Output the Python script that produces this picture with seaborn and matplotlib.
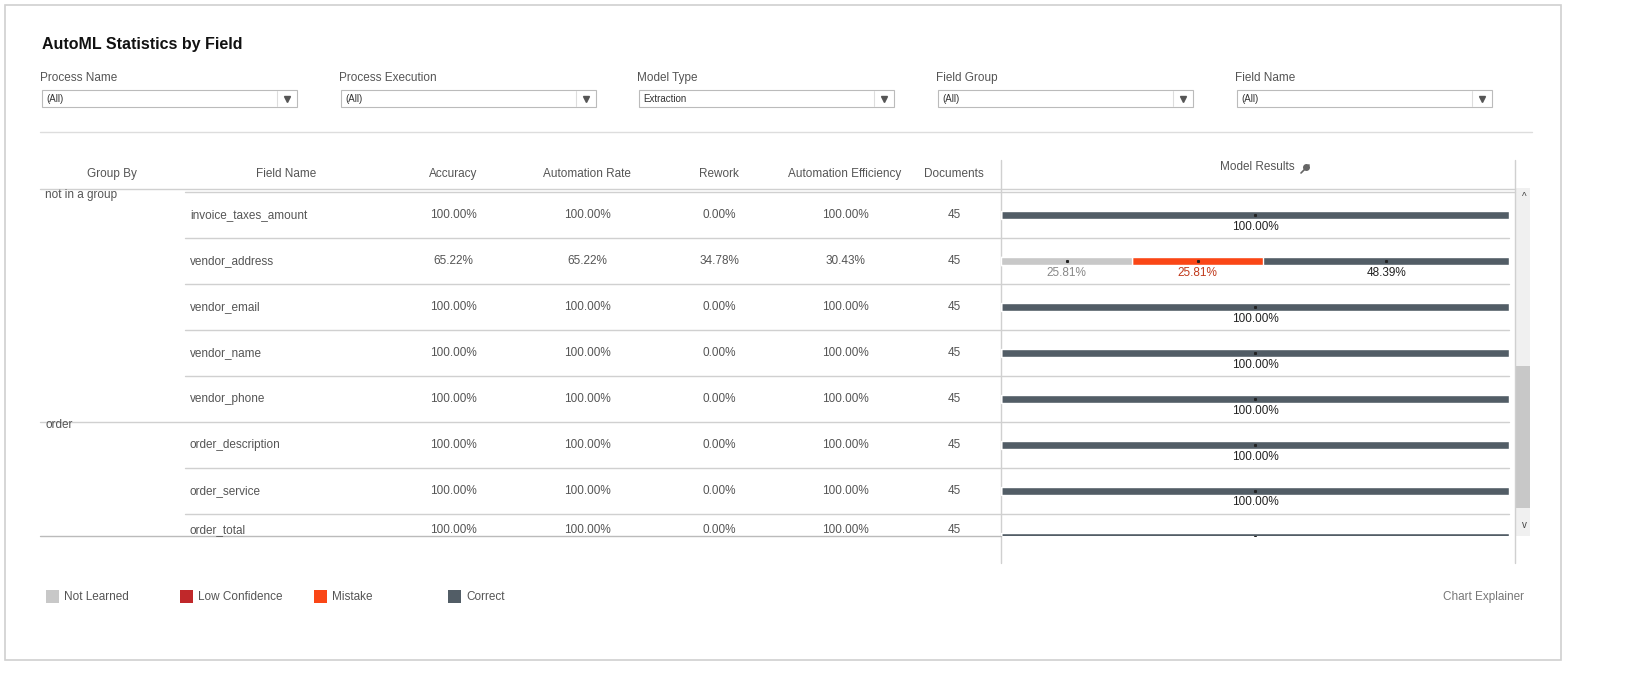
import matplotlib
matplotlib.use("Agg")
import matplotlib.pyplot as plt
import seaborn as sns
import pandas as pd
from matplotlib.patches import Rectangle

sns.set_theme(style="white")
plt.rcParams['font.family'] = ['Liberation Sans', 'DejaVu Sans']

groups = ["not in a group", "", "", "", "", "order", "", ""]
fields = ["invoice_taxes_amount", "vendor_address", "vendor_email", "vendor_name",
          "vendor_phone", "order_description", "order_service", "order_total"]
accuracy = ["100.00%", "65.22%", "100.00%", "100.00%", "100.00%", "100.00%", "100.00%", "100.00%"]
auto_rate = ["100.00%", "65.22%", "100.00%", "100.00%", "100.00%", "100.00%", "100.00%", "100.00%"]
rework = ["0.00%", "34.78%", "0.00%", "0.00%", "0.00%", "0.00%", "0.00%", "0.00%"]
auto_eff = ["100.00%", "30.43%", "100.00%", "100.00%", "100.00%", "100.00%", "100.00%", "100.00%"]
documents = [45, 45, 45, 45, 45, 45, 45, 45]
not_learned = [0, 25.81, 0, 0, 0, 0, 0, 0]
low_conf = [0, 0, 0, 0, 0, 0, 0, 0]
mistake = [0, 25.81, 0, 0, 0, 0, 0, 0]
correct = [100, 48.39, 100, 100, 100, 100, 100, 100]

C_NL, C_LC, C_MI, C_CO = "#c8c8c8", "#c0282a", "#fa4616", "#525d66"
TXT = "#555555"

W, H = 1638, 695
fig = plt.figure(figsize=(W/100, H/100), dpi=100)
ov = fig.add_axes([0, 0, 1, 1])
ov.set_xlim(0, W); ov.set_ylim(H, 0); ov.axis("off")

ov.add_patch(Rectangle((5, 5), 1556, 655, fill=False, ec="#d0d0d0", lw=1.2))
ov.text(42, 45, "AutoML Statistics by Field", fontsize=11.5, fontweight="bold", va="center", color="#111")

filters = [("Process Name", "(All)"), ("Process Execution", "(All)"), ("Model Type", "Extraction"),
           ("Field Group", "(All)"), ("Field Name", "(All)")]
fx = [40, 339, 637, 936, 1235]
for (lab, val), x in zip(filters, fx):
    ov.text(x, 78, lab, fontsize=8.5, color=TXT, va="center")
    ov.add_patch(Rectangle((x + 2, 90), 255, 17, fill=False, ec="#bbbbbb", lw=0.8))
    ov.plot([x + 237, x + 237], [91, 106], color="#dddddd", lw=0.8)
    ov.text(x + 6, 99, val, fontsize=7, color="#333", va="center")
    ov.plot([x + 247], [99], marker="v", ms=4, color="#555")
ov.plot([40, 1532], [132, 132], color="#dddddd", lw=1)

heads = [(112, "Group By"), (286, "Field Name"), (453, "Accuracy"), (587, "Automation Rate"),
         (719, "Rework"), (845, "Automation Efficiency"), (954, "Documents")]
for x, t in heads:
    ov.text(x, 174, t, fontsize=8.5, color=TXT, ha="center", va="center")
ov.text(1257, 167, "Model Results", fontsize=8.5, color=TXT, ha="center", va="center")
ov.plot([1301, 1309], [173, 165], color="#666", lw=1.2)
ov.plot([1306], [167], marker="o", ms=4, color="#666")
ov.plot([40, 1515], [189, 189], color="#d0d0d0", lw=1)
ov.plot([1001, 1515], [192, 192], color="#d0d0d0", lw=1)
ov.plot([1001, 1001], [160, 563], color="#d0d0d0", lw=1)
ov.plot([1515, 1515], [160, 563], color="#d0d0d0", lw=1)

row_h = 46
for i in range(len(fields)):
    yc = min(215 + row_h * i, 530)
    if groups[i]:
        ov.text(45, 195 + row_h * i, groups[i], fontsize=8.5, color=TXT, va="center")
    ov.text(190, yc, fields[i], fontsize=8.5, color=TXT, va="center")
    for x, v in [(453, accuracy[i]), (587, auto_rate[i]), (719, rework[i]), (845, auto_eff[i]), (954, str(documents[i]))]:
        ov.text(x, yc, v, fontsize=8.5, color=TXT, ha="center", va="center")
    if i < len(fields) - 1:
        ly = 215 + row_h * i + 23
        x0 = 40 if i == 4 else 185
        ov.plot([x0, 1509], [ly, ly], color="#d0d0d0", lw=1)
ov.plot([40, 1001], [536, 536], color="#bbbbbb", lw=1)
ov.plot([185, 1001], [192, 192], color="#d0d0d0", lw=1)

ov.add_patch(Rectangle((1516, 188), 14, 348, color="#f0f0f0", lw=0))
ov.add_patch(Rectangle((1516, 366), 14, 142, color="#c8c8c8", lw=0))
ov.text(1524, 197, "^", fontsize=7, ha="center", va="center", color="#444")
ov.text(1524, 525, "v", fontsize=7, ha="center", va="center", color="#444")

for x, c, t in [(46, C_NL, "Not Learned"), (180, C_LC, "Low Confidence"), (314, C_MI, "Mistake"), (448, C_CO, "Correct")]:
    ov.add_patch(Rectangle((x, 590), 13, 13, color=c, lw=0))
    ov.text(x + 18, 597, t, fontsize=8.5, color=TXT, va="center")
ov.text(1524, 597, "Chart Explainer", fontsize=8.5, color="#777", ha="right", va="center")

top, bot = 192, 536
bx = fig.add_axes([1001/W, 1 - bot/H, 508/W, (bot - top)/H])
df = pd.DataFrame({"field": fields, "nl": not_learned, "lc": low_conf, "mi": mistake, "co": correct})
df["c1"] = df["nl"]
df["c2"] = df["nl"] + df["lc"]
df["c3"] = df["c2"] + df["mi"]
df["c4"] = df["c3"] + df["co"]
bw = 8 / row_h
for col, c in [("c4", C_CO), ("c3", C_MI), ("c2", C_LC), ("c1", C_NL)]:
    sns.barplot(data=df, y="field", x=col, order=fields, color=c, width=bw, saturation=1,
                orient="h", ax=bx, errorbar=None)
bx.set_xlim(0, 100)
bx.set_ylim((bot - 215) / row_h, (top - 215) / row_h)
bx.axis("off")
for i in range(len(fields)):
    segs = [(0, not_learned[i], "#888888"), (not_learned[i], low_conf[i], "#c0282a"),
            (not_learned[i] + low_conf[i], mistake[i], "#c0391b"),
            (not_learned[i] + low_conf[i] + mistake[i], correct[i], "#222222")]
    for s, w, tc in segs:
        if w > 0:
            cx = s + w / 2
            bx.plot([cx], [i], marker="s", ms=1.2, color="#222", ls="none")
            if i < len(fields) - 1:
                bx.text(cx, i + 0.25, f"{w:.2f}%", fontsize=8.5, color=tc, ha="center", va="center")

fig.savefig("out.png", dpi=100)
